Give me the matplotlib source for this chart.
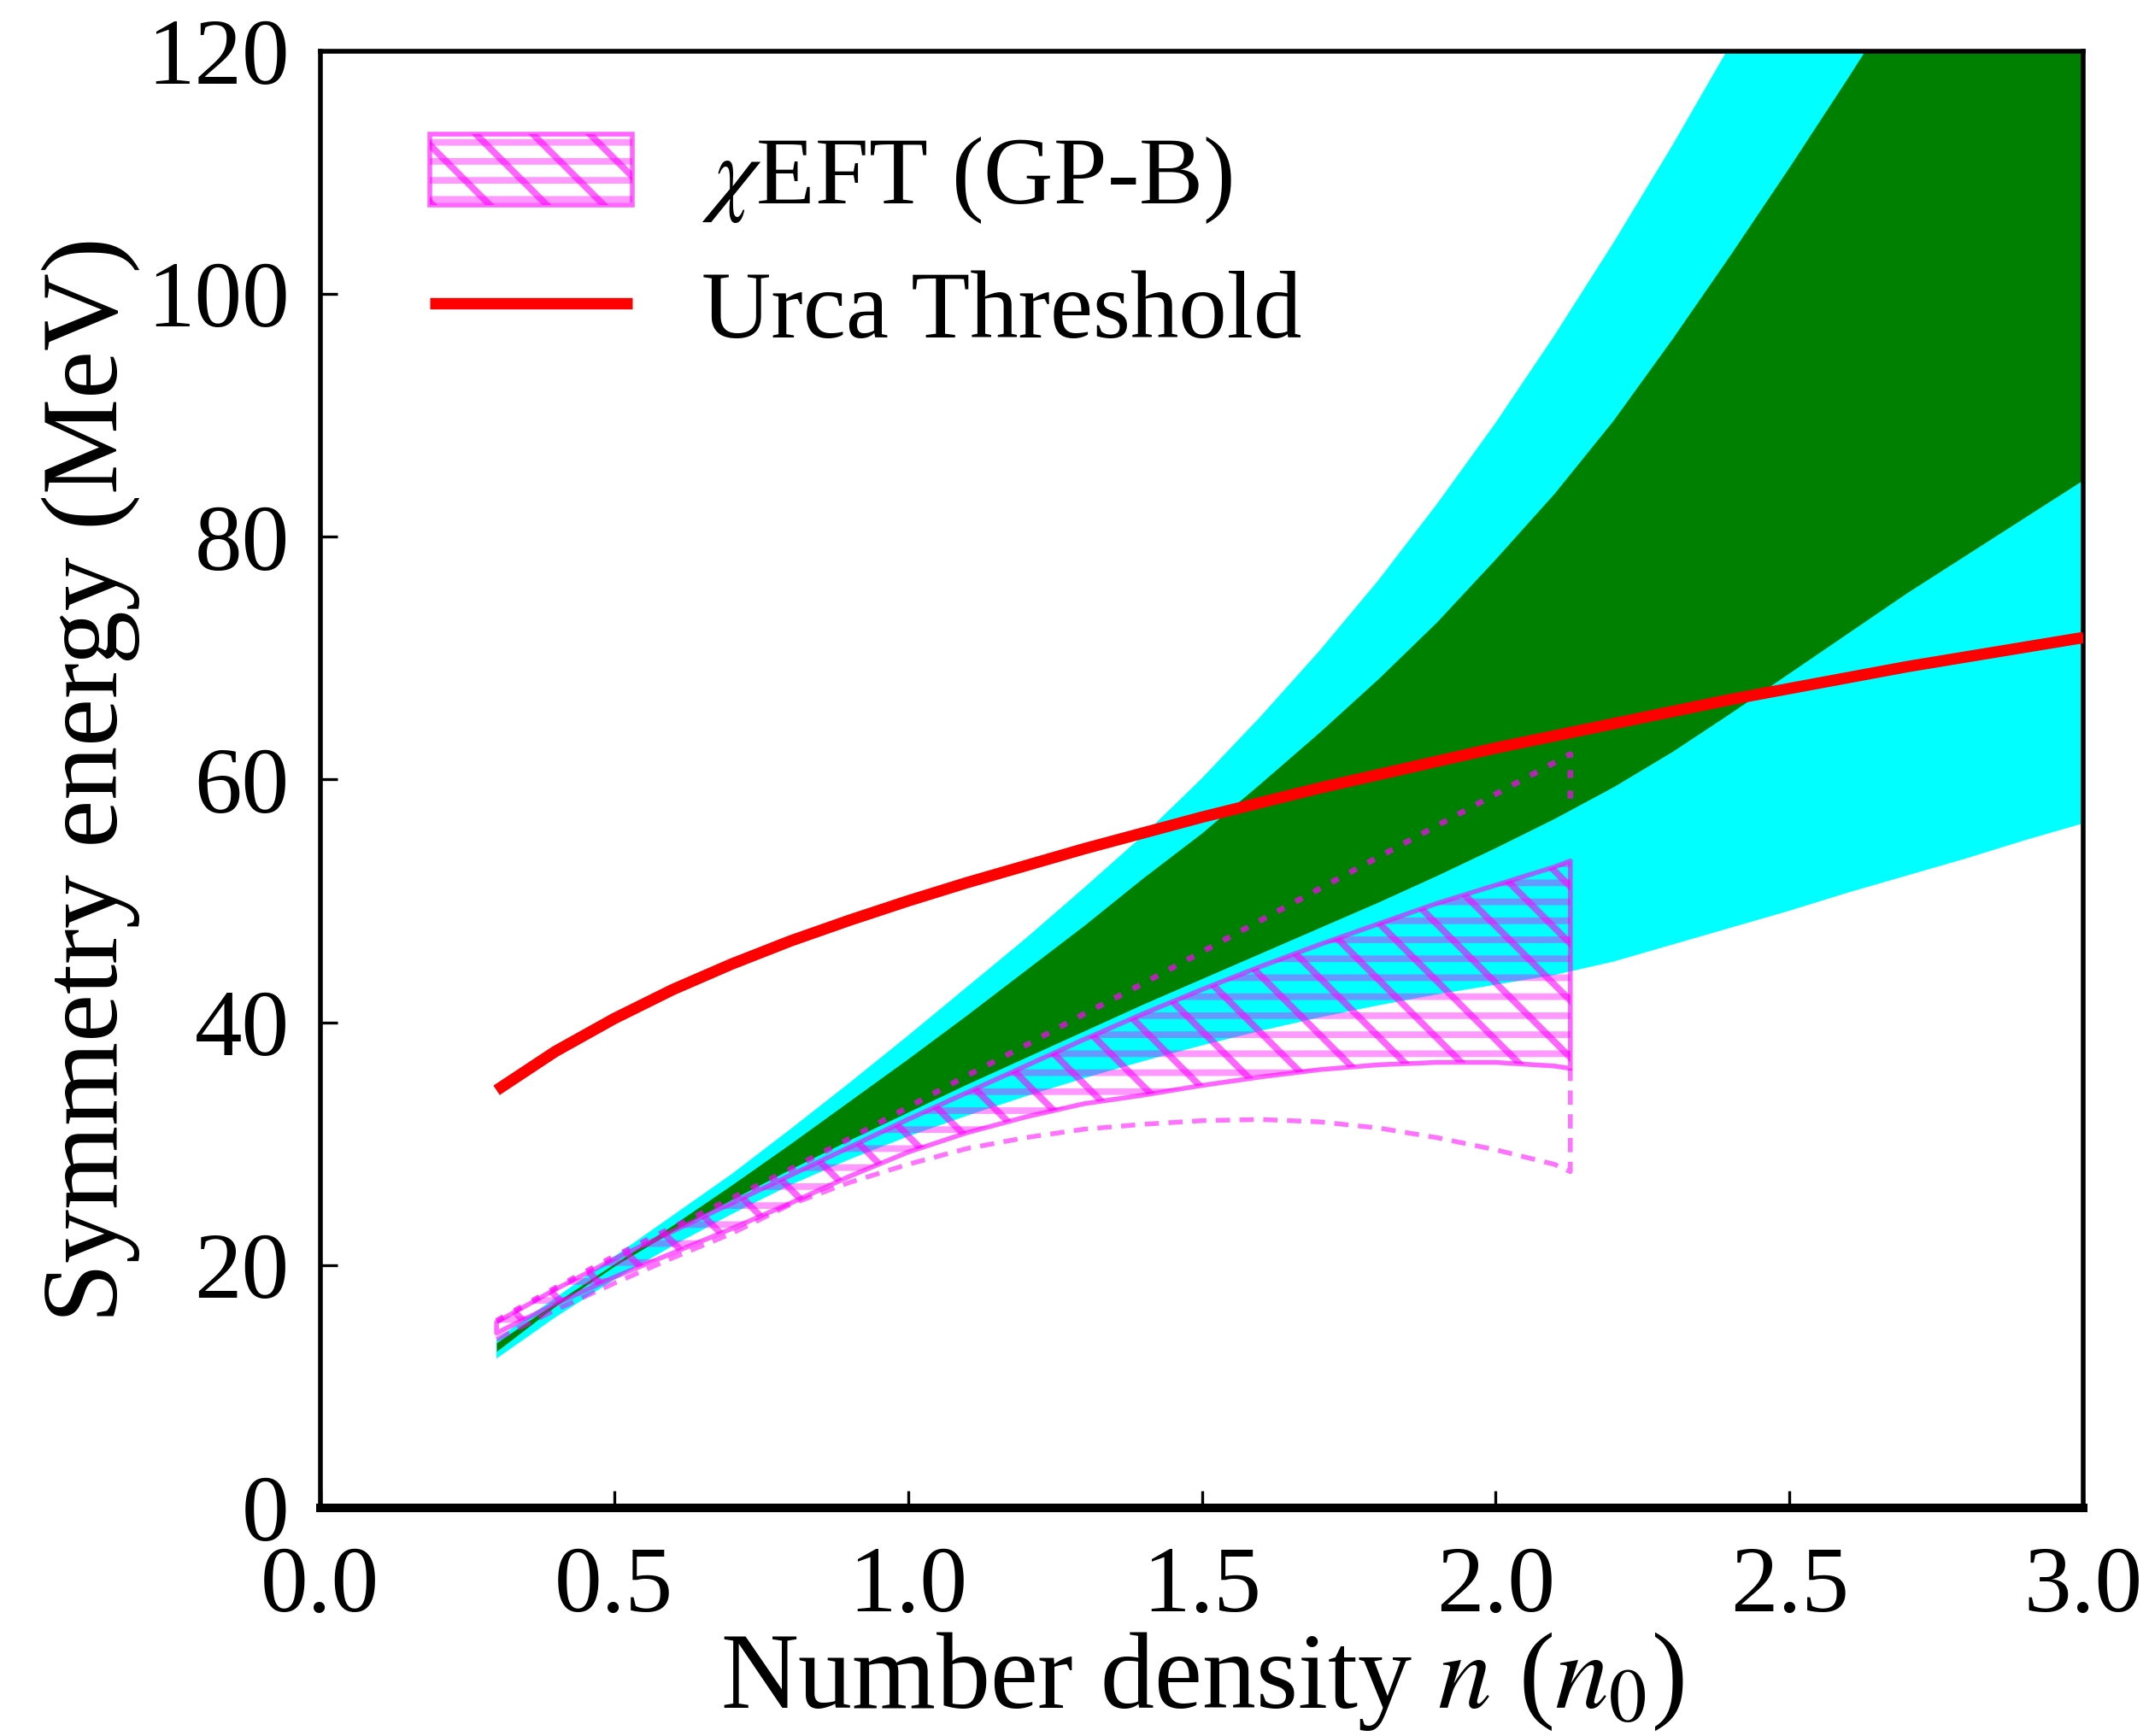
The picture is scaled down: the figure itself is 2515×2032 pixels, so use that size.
import numpy as np
import matplotlib
matplotlib.use('Agg')
import matplotlib.pyplot as plt
from matplotlib.legend_handler import HandlerTuple

plt.rcParams['font.family'] = 'Liberation Serif'
plt.rcParams['mathtext.fontset'] = 'stix'
plt.rcParams['hatch.linewidth'] = 1.4

# outer (cyan) and inner (green) symmetry-energy bands
x_band = [0.3, 0.4, 0.5, 0.6, 0.7, 0.8, 0.9, 1.0, 1.1, 1.2, 1.3, 1.4, 1.5, 1.6,
          1.7, 1.8, 1.9, 2.0, 2.1, 2.2, 2.3, 2.4, 2.5, 2.6, 2.7, 2.8, 2.9, 3.0]
cyan_hi = [13.9, 17.3, 20.7, 24.1, 27.5, 31.2, 35.0, 38.9, 42.9, 46.9, 51.1, 55.4, 60.1, 65.2,
           70.6, 76.4, 82.7, 89.4, 96.6, 104.2, 112.2, 120.6, 129.3, 138.3, 147.5, 157.0, 166.5, 176.0]
cyan_lo = [12.3, 15.7, 18.8, 21.6, 24.2, 26.6, 28.7, 30.6, 32.3, 33.9, 35.4, 36.8, 38.1, 39.3,
           40.4, 41.4, 42.3, 43.1, 43.9, 45.0, 46.4, 47.8, 49.2, 50.7, 52.1, 53.5, 55.0, 56.4]
green_hi = [13.6, 16.9, 20.1, 23.3, 26.6, 30.0, 33.5, 37.0, 40.6, 44.3, 48.0, 51.9, 55.6, 59.7,
            63.9, 68.3, 73.0, 78.2, 83.6, 89.6, 96.3, 103.3, 110.5, 117.9, 125.5, 133.0, 141.0, 149.0]
green_lo = [12.9, 16.6, 19.9, 22.8, 25.4, 27.9, 30.3, 32.6, 34.9, 37.1, 39.3, 41.5, 43.6, 45.7,
            47.8, 49.9, 52.1, 54.4, 56.8, 59.4, 62.3, 65.5, 68.8, 72.1, 75.4, 78.5, 81.6, 84.7]

# chiEFT (GP-B) band and its wider bounds
x_eft = [0.3, 0.4, 0.5, 0.6, 0.7, 0.8, 0.9, 1.0, 1.1, 1.2, 1.3, 1.4, 1.5, 1.6,
         1.7, 1.8, 1.9, 2.0, 2.1, 2.127]
eft_hi = [15.3, 18.0, 20.5, 22.8, 25.1, 27.4, 29.7, 32.0, 34.2, 36.4, 38.6, 40.7, 42.7, 44.6,
          46.4, 48.1, 49.8, 51.3, 52.8, 53.3]
eft_lo = [14.4, 16.8, 19.0, 21.0, 23.0, 25.1, 27.3, 29.3, 30.9, 32.2, 33.3, 34.0, 34.8, 35.5,
          36.1, 36.5, 36.7, 36.7, 36.4, 36.2]
eft2_lo = [13.9, 16.3, 18.5, 20.6, 22.6, 25.0, 26.8, 28.3, 29.6, 30.5, 31.2, 31.6, 31.9, 32.0,
           31.8, 31.3, 30.5, 29.5, 28.3, 27.7]
eft2_hi = [15.4, 18.1, 20.7, 23.1, 25.5, 27.9, 30.4, 33.0, 35.6, 38.1, 40.7, 43.2, 45.8, 48.4,
           51.0, 53.6, 56.2, 58.8, 61.4, 62.1]
eft2_hi_end = 58.0

# direct Urca threshold
x_urca = x_band
urca = [34.4, 37.6, 40.3, 42.7, 44.8, 46.7, 48.4, 50.0, 51.5, 52.9, 54.3, 55.6, 56.9, 58.1,
        59.3, 60.4, 61.5, 62.6, 63.6, 64.6, 65.6, 66.6, 67.5, 68.4, 69.3, 70.1, 70.9, 71.7]

fig = plt.figure(figsize=(2515 / 400, 2032 / 400), dpi=400)
ax = fig.add_axes([0.149, 0.1314, 0.8205, 0.8391])

ax.fill_between(x_band, cyan_lo, cyan_hi, color='cyan', lw=0, zorder=1)
ax.fill_between(x_band, green_lo, green_hi, color='green', lw=0, zorder=2)

h1 = ax.fill_between(x_eft, eft_lo, eft_hi, facecolor='none', edgecolor='magenta',
                     hatch='---', lw=0, alpha=0.4, zorder=3)
h2 = ax.fill_between(x_eft, eft_lo, eft_hi, facecolor='none', edgecolor='magenta',
                     hatch='\\\\', lw=1.0, alpha=0.6, zorder=3)

ax.plot(np.append(x_eft, x_eft[-1]), np.append(eft2_lo, eft_lo[-1]), color='magenta',
        alpha=0.55, lw=1.0, ls=(0, (3, 2)), zorder=4)
ax.plot(np.append(x_eft, x_eft[-1]), np.append(eft2_hi, eft2_hi_end), color='magenta',
        alpha=0.7, lw=1.2, ls=(0, (1.4, 2.2)), zorder=4)

h3, = ax.plot(x_urca, urca, color='red', lw=2.4, solid_capstyle='butt', zorder=5)

ax.set_xlim(0, 3)
ax.set_ylim(0, 120)
ax.set_xticks([0, 0.5, 1.0, 1.5, 2.0, 2.5, 3.0])
ax.set_yticks([0, 20, 40, 60, 80, 100, 120])
ax.tick_params(direction='in', length=3.6, width=0.6, labelsize=20)
ax.tick_params(axis='x', pad=8)
ax.tick_params(axis='y', pad=6.5)
for s in ax.spines.values():
    s.set_linewidth(1.0)
ax.spines['bottom'].set_linewidth(1.8)

ax.set_xlabel('Number density $n$ ($n_0$)', fontsize=22.7, labelpad=0)
ax.set_ylabel('Symmetry energy (MeV)', fontsize=22.7, labelpad=1.5)

ax.legend([(h1, h2), h3], [r'$\chi$EFT (GP-B)', 'Urca Threshold'],
          handler_map={tuple: HandlerTuple(ndivide=1)}, loc='upper left',
          bbox_to_anchor=(0.062, 0.943), frameon=False, fontsize=20.3,
          borderpad=0, borderaxespad=0, handlelength=2.1, handleheight=0.75,
          handletextpad=0.72, labelspacing=0.45)

fig.savefig('out.png', dpi=400)
